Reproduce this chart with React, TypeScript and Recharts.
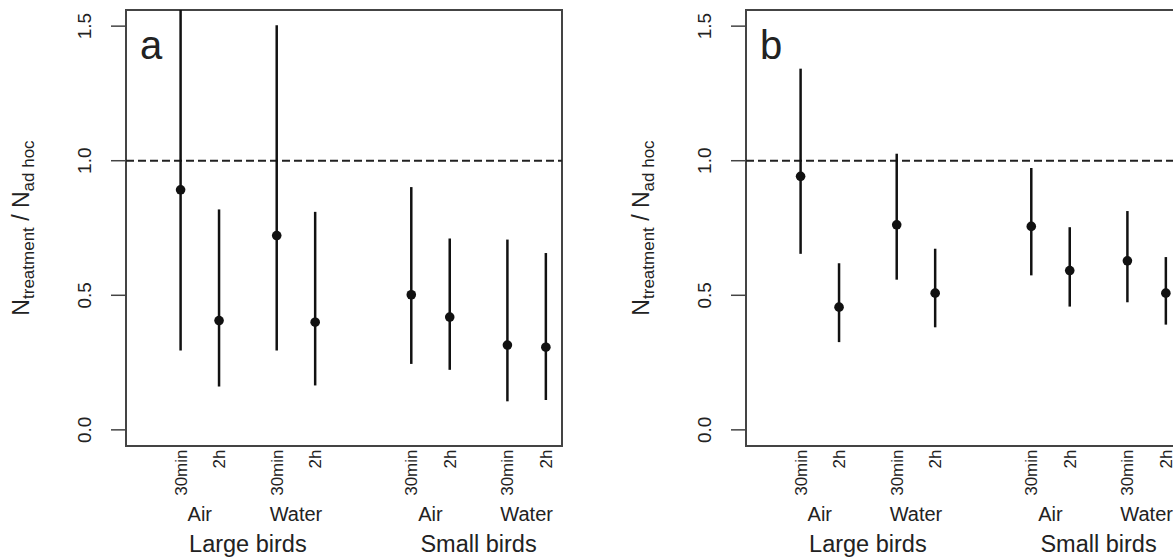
import React from 'react';
import { ComposedChart, Scatter, XAxis, YAxis, ReferenceLine, ReferenceArea } from 'recharts';

// x positions of the eight estimates (R-style grouped layout)
const positions = [1, 2, 3.5, 4.5, 7, 8, 9.5, 10.5];
const timeLabels = ['30min', '2h', '30min', '2h', '30min', '2h', '30min', '2h'];
const groupTicks = [1.5, 4, 7.5, 10];
const groupLabels = ['Air', 'Water', 'Air', 'Water'];
const birdTicks = [2.75, 8.75];
const birdLabels = ['Large birds', 'Small birds'];
const yTicks = [0, 0.5, 1, 1.5];

// Panel a
const estA = [0.892, 0.406, 0.722, 0.4, 0.502, 0.419, 0.315, 0.307];
const lowA = [0.295, 0.161, 0.295, 0.165, 0.245, 0.223, 0.106, 0.111];
const highA = [1.75, 0.819, 1.503, 0.81, 0.902, 0.711, 0.707, 0.657];

// Panel b
const estB = [0.942, 0.456, 0.762, 0.508, 0.756, 0.592, 0.628, 0.508];
const lowB = [0.654, 0.326, 0.558, 0.381, 0.574, 0.458, 0.474, 0.391];
const highB = [1.342, 0.619, 1.026, 0.673, 0.973, 0.753, 0.813, 0.642];

const X_DOMAIN: [number, number] = [-0.42, 10.92];
const Y_DOMAIN: [number, number] = [-0.06, 1.56];
const ALL_X_TICKS = [...positions, ...groupTicks, ...birdTicks];

const FONT = '"Liberation Sans", Arial, Helvetica, sans-serif';
const TEXT = '#222';
const INK = '#111';

const XTick = (props: any) => {
  const { x, y, payload } = props;
  const v = payload.value;
  const ti = positions.indexOf(v);
  if (ti >= 0) {
    const ty = y + 3.5;
    return (
      <text x={x} y={ty} dy="0.35em" transform={`rotate(-90, ${x}, ${ty})`} textAnchor="end" fontSize={17} fill={TEXT} fontFamily={FONT}>
        {timeLabels[ti]}
      </text>
    );
  }
  const gi = groupTicks.indexOf(v);
  if (gi >= 0) {
    return (
      <text x={x} y={y + 75} textAnchor="middle" fontSize={20} fill={TEXT} fontFamily={FONT}>
        {groupLabels[gi]}
      </text>
    );
  }
  const bi = birdTicks.indexOf(v);
  return (
    <text x={x} y={y + 105.7} textAnchor="middle" fontSize={23.5} fill={TEXT} fontFamily={FONT}>
      {birdLabels[bi]}
    </text>
  );
};

const YTick = (props: any) => {
  const { x, y, payload } = props;
  const tx = x - 20;
  return (
    <text x={tx} y={y} transform={`rotate(-90, ${tx}, ${y})`} textAnchor="middle" fontSize={19} fill={TEXT} fontFamily={FONT}>
      {Number(payload.value).toFixed(1)}
    </text>
  );
};

const YTitle = (props: any) => {
  const vb = props.viewBox || { x: 0, y: 10, width: 126, height: 436 };
  const tx = vb.x + 29;
  const ty = vb.y + vb.height / 2;
  return (
    <text x={tx} y={ty} transform={`rotate(-90, ${tx}, ${ty})`} textAnchor="middle" fontSize={23} fill={TEXT} fontFamily={FONT}>
      N
      <tspan fontSize={17} dy={5}>treatment</tspan>
      <tspan dy={-5}> / N</tspan>
      <tspan fontSize={17} dy={5}>ad hoc</tspan>
    </text>
  );
};

const Dot = (props: any) => {
  const { cx, cy } = props;
  return <circle cx={cx} cy={cy} r={4.8} fill={INK} />;
};

type PanelProps = { letter: string; est: number[]; low: number[]; high: number[] };

const Panel = ({ letter, est, low, high }: PanelProps) => {
  const data = positions.map((x, i) => ({ x, y: est[i] }));
  const Letter = (p: any) => {
    const vb = p.viewBox || { x: 126, y: 10 };
    return (
      <text x={vb.x + 14} y={vb.y + 49} fontSize={40} fill={TEXT} fontFamily={FONT}>
        {letter}
      </text>
    );
  };
  return (
    <ComposedChart width={620} height={558} margin={{ top: 10, right: 58, bottom: 0, left: 0 }}>
      <XAxis
        dataKey="x"
        type="number"
        domain={X_DOMAIN}
        allowDataOverflow
        ticks={ALL_X_TICKS}
        interval={0}
        height={112}
        axisLine={false}
        tickLine={false}
        tickSize={0}
        tickMargin={0}
        tick={XTick}
      />
      <YAxis
        dataKey="y"
        type="number"
        domain={Y_DOMAIN}
        allowDataOverflow
        ticks={yTicks}
        interval={0}
        width={126}
        tickSize={15}
        tickMargin={0}
        axisLine={false}
        tickLine={{ stroke: '#444', strokeWidth: 1.5 }}
        tick={YTick}
        label={YTitle}
      />
      <ReferenceArea
        x1={X_DOMAIN[0]}
        x2={X_DOMAIN[1]}
        y1={Y_DOMAIN[0]}
        y2={Y_DOMAIN[1]}
        fill="none"
        fillOpacity={0}
        stroke="#444"
        strokeWidth={2}
        ifOverflow="visible"
        label={Letter}
      />
      <ReferenceLine y={1} stroke="#222" strokeWidth={2} strokeDasharray="8 4" />
      {positions.map((x, i) => (
        <ReferenceLine
          key={i}
          segment={[
            { x, y: low[i] },
            { x, y: high[i] },
          ]}
          stroke={INK}
          strokeWidth={2.5}
          ifOverflow="hidden"
        />
      ))}
      <Scatter data={data} dataKey="y" shape={Dot} isAnimationActive={false} />
    </ComposedChart>
  );
};

export default function App() {
  return (
    <div
      style={{
        position: 'absolute',
        left: 0,
        top: 0,
        width: 1173,
        height: 558,
        overflow: 'hidden',
        background: '#fff',
        fontFamily: FONT,
      }}
    >
      <div style={{ position: 'absolute', left: 0, top: 0 }}>
        <Panel letter="a" est={estA} low={lowA} high={highA} />
      </div>
      <div style={{ position: 'absolute', left: 620, top: 0 }}>
        <Panel letter="b" est={estB} low={lowB} high={highB} />
      </div>
    </div>
  );
}
